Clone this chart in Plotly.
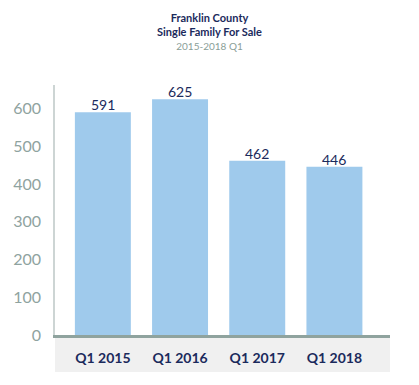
import plotly.graph_objects as go

categories = ["Q1 2015", "Q1 2016", "Q1 2017", "Q1 2018"]
values = [591, 625, 462, 446]
y_ticks = [0, 100, 200, 300, 400, 500, 600]

navy = "#1b2a5c"
xs = list(range(len(categories)))
fig = go.Figure(go.Bar(
    x=xs, y=values,
    marker=dict(color="#9fcaec", line=dict(width=0)),
    width=0.725,
    hoverinfo="skip",
))

for x, v in zip(xs, values):
    fig.add_annotation(x=x, y=v, text=str(v), showarrow=False,
                       yanchor="bottom", yshift=-3,
                       font=dict(family="Lato", size=14, color=navy))

fig.add_shape(type="rect", xref="paper", yref="paper", x0=0, x1=1, y0=-0.148, y1=0,
              fillcolor="#f0f0f0", line=dict(width=0), layer="below")

fig.update_layout(
    width=419, height=385,
    margin=dict(l=55, r=29, t=85, b=50),
    plot_bgcolor="white", paper_bgcolor="white",
    showlegend=False,
    title=dict(
        text="<b>Franklin County</b><br><b>Single Family For Sale</b><br><span style='color:#8a9e98;font-size:10px'>2015-2018 Q1</span>",
        x=0.5, xanchor="center", y=0.944, yanchor="top",
        font=dict(family="Lato", size=11, color=navy),
    ),
    xaxis=dict(
        tickmode="array", tickvals=xs, ticktext=categories,
        range=[-0.62, 3.72], showgrid=False, zeroline=False,
        showline=True, linecolor="#8fa39e", linewidth=3,
        ticks="", ticklabelstandoff=8, automargin=False,
        tickfont=dict(family="Lato", size=14, color=navy, weight="bold"),
    ),
    yaxis=dict(
        range=[0, 663], tickmode="array", tickvals=y_ticks,
        showgrid=False, zeroline=False,
        showline=True, linecolor="#cdd5d4", linewidth=1.5,
        ticks="", ticklabelstandoff=9, automargin=False,
        tickfont=dict(family="Lato", size=16, color="#8fa39f"),
    ),
)

fig.write_html("out.html", config={"displayModeBar": False},
               post_script="document.body.style.margin='0';")
